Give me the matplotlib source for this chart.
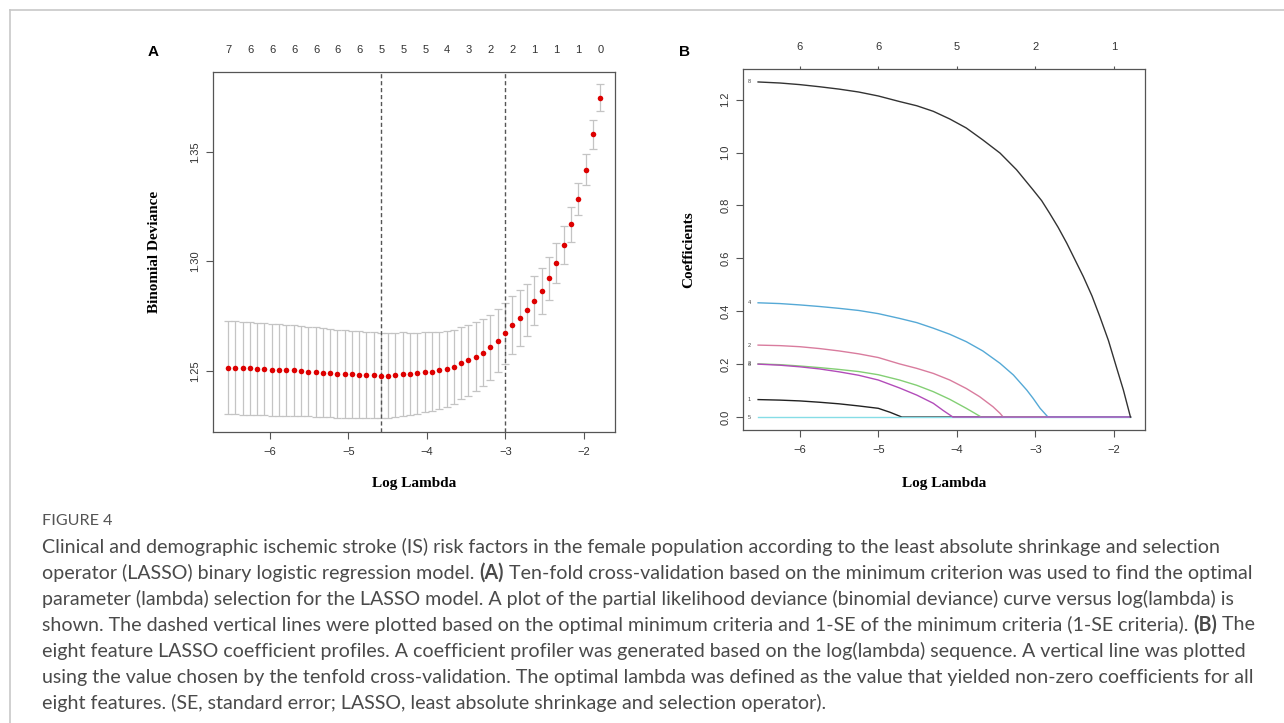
import numpy as np
import matplotlib
matplotlib.use("Agg")
import matplotlib.pyplot as plt

W, H = 1284, 723

# ---- panel A: cross-validation curve ----
log_lambda = [-6.53, -6.44, -6.34, -6.25, -6.16, -6.07, -5.97, -5.88, -5.79, -5.69,
              -5.60, -5.51, -5.41, -5.32, -5.23, -5.14, -5.04, -4.95, -4.86, -4.77,
              -4.67, -4.58, -4.49, -4.40, -4.30, -4.21, -4.12, -4.02, -3.93, -3.84,
              -3.74, -3.65, -3.56, -3.47, -3.37, -3.28, -3.19, -3.09, -3.00, -2.91,
              -2.81, -2.72, -2.63, -2.54, -2.44, -2.35, -2.26, -2.16, -2.07, -1.98,
              -1.88, -1.79]
deviance = [1.2515, 1.2514, 1.2512, 1.2511, 1.2509, 1.2508, 1.2506, 1.2505, 1.2503, 1.2502,
            1.2500, 1.2497, 1.2495, 1.2492, 1.2491, 1.2488, 1.2486, 1.2485, 1.2483, 1.2482,
            1.2480, 1.2479, 1.2479, 1.2482, 1.2485, 1.2486, 1.2489, 1.2494, 1.2497, 1.2502,
            1.2509, 1.2520, 1.2535, 1.2549, 1.2564, 1.2584, 1.2608, 1.2637, 1.2672, 1.2710,
            1.2742, 1.2777, 1.2820, 1.2867, 1.2924, 1.2992, 1.3075, 1.3170, 1.3285, 1.3419,
            1.3581, 1.3748]
dev_se = [0.0213, 0.0213, 0.0212, 0.0212, 0.0211, 0.0211, 0.0210, 0.0209, 0.0208, 0.0207,
          0.0206, 0.0205, 0.0204, 0.0203, 0.0202, 0.0201, 0.0200, 0.0199, 0.0198, 0.0197,
          0.0197, 0.0196, 0.0195, 0.0193, 0.0191, 0.0189, 0.0186, 0.0183, 0.0180, 0.0176,
          0.0172, 0.0169, 0.0165, 0.0162, 0.0158, 0.0154, 0.0149, 0.0144, 0.0139, 0.0133,
          0.0126, 0.0119, 0.0112, 0.0105, 0.0098, 0.0091, 0.0086, 0.0080, 0.0075, 0.0070,
          0.0066, 0.0062]
nzero_labels = ["7", "6", "6", "6", "6", "6", "6", "5", "5", "5", "4", "3", "2", "2", "1", "1", "1", "0"]
nzero_step = 3
idx_min, idx_1se = 21, 38

# ---- panel B: coefficient profiles (read points: log lambda, coefficient) ----
path_x = {
    "1": [-6.53, -6.25, -6.0, -5.75, -5.5, -5.25, -5.0, -4.85, -4.70, -1.79],
    "2": [-6.53, -6.25, -6.0, -5.75, -5.5, -5.25, -5.0, -4.73, -4.51, -4.30, -4.09, -3.88,
          -3.71, -3.54, -3.45, -3.41, -1.79],
    "3": [-6.53, -6.25, -6.0, -5.75, -5.5, -5.25, -5.0, -4.73, -4.51, -4.30, -4.09, -3.88,
          -3.77, -3.69, -1.79],
    "4": [-6.53, -6.25, -6.0, -5.75, -5.5, -5.25, -5.0, -4.73, -4.51, -4.30, -4.09, -3.88,
          -3.67, -3.45, -3.28, -3.11, -3.03, -2.94, -2.84, -1.79],
    "5": [-6.53, -1.79],
    "6": [-6.53, -6.25, -6.0, -5.75, -5.5, -5.25, -5.0, -4.73, -4.51, -4.30, -4.17, -4.05, -1.79],
    "8": [-6.53, -6.25, -6.0, -5.75, -5.5, -5.25, -5.0, -4.73, -4.51, -4.30, -4.09, -3.88,
          -3.67, -3.45, -3.24, -3.03, -2.92, -2.82, -2.71, -2.60, -2.50, -2.39, -2.28, -2.18,
          -2.07, -1.97, -1.88, -1.79],
}
path_y = {
    "1": [0.066, 0.064, 0.061, 0.056, 0.050, 0.042, 0.033, 0.018, 0.0, 0.0],
    "2": [0.272, 0.270, 0.266, 0.259, 0.250, 0.239, 0.225, 0.201, 0.184, 0.165, 0.140, 0.108,
          0.077, 0.039, 0.014, 0.0, 0.0],
    "3": [0.201, 0.198, 0.193, 0.187, 0.180, 0.172, 0.160, 0.140, 0.120, 0.096, 0.067, 0.033,
          0.014, 0.0, 0.0],
    "4": [0.432, 0.429, 0.424, 0.418, 0.411, 0.403, 0.391, 0.373, 0.357, 0.336, 0.313, 0.285,
          0.250, 0.203, 0.159, 0.102, 0.071, 0.033, 0.0, 0.0],
    "5": [0.0, 0.0],
    "6": [0.200, 0.196, 0.190, 0.182, 0.171, 0.158, 0.140, 0.110, 0.083, 0.052, 0.024, 0.0, 0.0],
    "8": [1.267, 1.263, 1.257, 1.249, 1.240, 1.229, 1.214, 1.193, 1.177, 1.156, 1.127, 1.093,
          1.048, 0.998, 0.935, 0.859, 0.818, 0.771, 0.717, 0.657, 0.597, 0.531, 0.458, 0.380,
          0.289, 0.190, 0.102, 0.0],
}
path_col = {"1": "#222222", "2": "#D97C9E", "3": "#83CF74", "4": "#55A9D6",
            "5": "#86DDE6", "6": "#B24CB9", "8": "#333333"}
top_ticks_b = [-6, -5, -4, -3, -2]
top_labels_b = ["6", "6", "5", "2", "1"]

caption_lines = [
    [("Clinical and demographic ischemic stroke (IS) risk factors in the female population according to the least absolute shrinkage and selection", False)],
    [("operator (LASSO) binary logistic regression model. ", False), ("(A)", True),
     (" Ten-fold cross-validation based on the minimum criterion was used to find the optimal", False)],
    [("parameter (lambda) selection for the LASSO model. A plot of the partial likelihood deviance (binomial deviance) curve versus log(lambda) is", False)],
    [("shown. The dashed vertical lines were plotted based on the optimal minimum criteria and 1-SE of the minimum criteria (1-SE criteria). ", False),
     ("(B)", True), (" The", False)],
    [("eight feature LASSO coefficient profiles. A coefficient profiler was generated based on the log(lambda) sequence. A vertical line was plotted", False)],
    [("using the value chosen by the tenfold cross-validation. The optimal lambda was defined as the value that yielded non-zero coefficients for all", False)],
    [("eight features. (SE, standard error; LASSO, least absolute shrinkage and selection operator).", False)],
]

plt.rcParams["font.family"] = "Liberation Sans"
tick_col = "#333333"
spine_col = "#555555"

fig = plt.figure(figsize=(W / 100, H / 100), dpi=100)


def box(l, t, r, b):
    return [l / W, 1 - b / H, (r - l) / W, (b - t) / H]


def style_axes(ax):
    for s in ax.spines.values():
        s.set_color(spine_col)
        s.set_linewidth(0.9)
    ax.tick_params(axis="both", colors=spine_col, labelcolor=tick_col, labelsize=8,
                   length=5, width=0.8, direction="out")
    ax.tick_params(axis="x", pad=6)
    ax.tick_params(axis="y", pad=4)
    for lab in ax.get_yticklabels():
        lab.set_rotation(90)
        lab.set_va("center")


xlim = (-6.722, -1.605)

# panel A
axA = fig.add_axes(box(213, 72, 615, 432))
axA.errorbar(log_lambda, deviance, yerr=dev_se, fmt="none", ecolor="#C4C4C4",
             elinewidth=0.9, capsize=2.9, capthick=0.9, zorder=1)
axA.plot(log_lambda, deviance, "o", color="#DD0000", ms=4.0, mec="none", zorder=3)
for i in (idx_min, idx_1se):
    axA.axvline(log_lambda[i], color="#555555", lw=1.0, ls=(0, (3, 2)), zorder=2)
axA.set_xlim(*xlim)
axA.set_ylim(1.2221, 1.3865)
axA.set_xticks([-6, -5, -4, -3, -2])
axA.set_yticks([1.25, 1.30, 1.35])
axA.set_yticklabels(["1.25", "1.30", "1.35"])
style_axes(axA)
topA = axA.secondary_xaxis("top")
topA.set_xticks(log_lambda[::nzero_step])
topA.set_xticklabels(nzero_labels)
topA.tick_params(length=0, pad=12, labelsize=8, labelcolor=tick_col)
topA.spines["top"].set_visible(False)
axA.set_xlabel("Log Lambda", family="Liberation Serif", weight="bold", fontsize=11, labelpad=14)
axA.set_ylabel("Binomial Deviance", family="Liberation Serif", weight="bold", fontsize=11, labelpad=21)

# panel B
axB = fig.add_axes(box(743, 69, 1145, 430))
for key in ["1", "2", "3", "4", "5", "6", "8"]:
    axB.plot(path_x[key], path_y[key], color=path_col[key], lw=1.0)
for key in ["1", "2", "3", "4", "5", "6", "8"]:
    axB.text(-6.64, path_y[key][0], key, fontsize=4, color="#444444", ha="center", va="center")
axB.set_xlim(*xlim)
axB.set_ylim(-0.049, 1.316)
axB.set_xticks([-6, -5, -4, -3, -2])
axB.set_yticks([0.0, 0.2, 0.4, 0.6, 0.8, 1.0, 1.2])
axB.set_yticklabels(["0.0", "0.2", "0.4", "0.6", "0.8", "1.0", "1.2"])
style_axes(axB)
topB = axB.secondary_xaxis("top")
topB.set_xticks(top_ticks_b)
topB.set_xticklabels(top_labels_b)
topB.tick_params(length=2.5, width=0.8, color=spine_col, pad=10, labelsize=8, labelcolor=tick_col)
topB.spines["top"].set_visible(False)
axB.set_xlabel("Log Lambda", family="Liberation Serif", weight="bold", fontsize=11, labelpad=16)
axB.set_ylabel("Coefficients", family="Liberation Serif", weight="bold", fontsize=11, labelpad=18)

# panel letters
fig.text(153 / W, 1 - 52 / H, "A", fontsize=11, weight="bold", ha="center", va="center")
fig.text(685 / W, 1 - 52 / H, "B", fontsize=11, weight="bold", ha="center", va="center")

# outer frame of the figure box
fig.add_artist(plt.Line2D([10 / W, 1], [1 - 10 / H, 1 - 10 / H], color="#C8C8C8", lw=1.2))
fig.add_artist(plt.Line2D([10 / W, 10 / W], [0, 1 - 10 / H], color="#C8C8C8", lw=1.2))

# caption
cap_font = "Lato"
cap_col = "#4A4A4A"
renderer = fig.canvas.get_renderer()


def text_width(s, size, bold):
    t = fig.text(0, 0, "x" + s + "x", fontsize=size, family=cap_font,
                 weight="bold" if bold else "normal")
    w1 = t.get_window_extent(renderer).width
    t.remove()
    t = fig.text(0, 0, "xx", fontsize=size, family=cap_font,
                 weight="bold" if bold else "normal")
    w2 = t.get_window_extent(renderer).width
    t.remove()
    return w1 - w2


cap_size = 10 * 1180 / text_width(caption_lines[0][0][0], 10, False)

fig.text(42 / W, 1 - 521 / H, "FIGURE 4", fontsize=cap_size * 0.82, family=cap_font,
         color="#555555", va="center", ha="left")
for n, parts in enumerate(caption_lines):
    y = 547 + n * 26
    x = 42
    for s, bold in parts:
        fig.text(x / W, 1 - y / H, s, fontsize=cap_size, family=cap_font, color=cap_col,
                 weight="bold" if bold else "normal", va="center", ha="left")
        x += text_width(s, cap_size, bold)

fig.savefig("out.png", dpi=100)
